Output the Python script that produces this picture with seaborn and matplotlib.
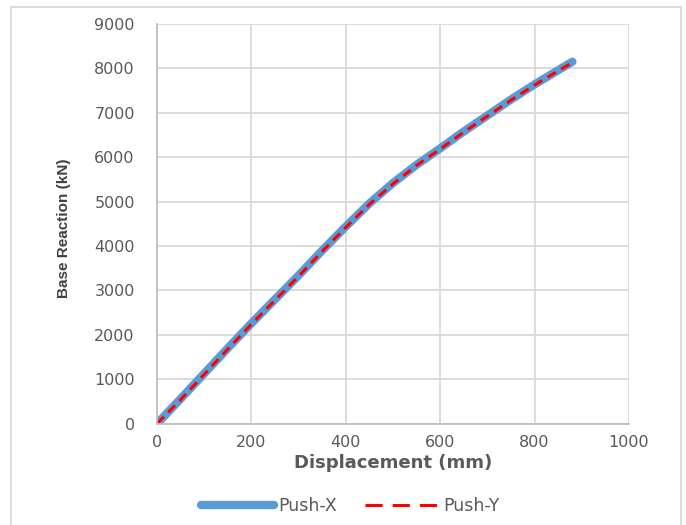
import matplotlib
matplotlib.use("Agg")
import matplotlib.pyplot as plt
import numpy as np
import pandas as pd
import seaborn as sns
from matplotlib.lines import Line2D
from matplotlib.patches import Rectangle

# pushover curves
disp_x = [0, 50, 100, 150, 200, 250, 300, 350, 400, 450, 500, 550, 600, 650, 700, 750, 800, 850, 880]
force_x = [0, 560, 1130, 1700, 2260, 2800, 3340, 3900, 4440, 4960, 5420, 5830, 6200, 6580, 6940, 7300, 7640, 7960, 8150]
disp_y = [0, 50, 100, 150, 200, 250, 300, 350, 400, 450, 500, 550, 600, 650, 700, 750, 800, 850, 875]
force_y = [0, 540, 1110, 1680, 2240, 2780, 3320, 3880, 4420, 4940, 5400, 5815, 6185, 6565, 6925, 7285, 7625, 7945, 8100]
series_names = ["Push-X", "Push-Y"]

x_ticks = [0, 200, 400, 600, 800, 1000]
y_ticks = [0, 1000, 2000, 3000, 4000, 5000, 6000, 7000, 8000, 9000]

BLUE = "#5B9BD5"
RED = "#FF0000"
GRID = "#D9D9D9"
TEXT = "#595959"

sns.set_theme(style="whitegrid")
plt.rcParams["font.family"] = ["DejaVu Sans"]

df_x = pd.DataFrame({"disp": disp_x, "force": force_x})
df_y = pd.DataFrame({"disp": disp_y, "force": force_y})

fig = plt.figure(figsize=(6.86, 5.25), dpi=100)
ax = fig.add_axes([157 / 686, 1 - 423.7 / 525, 472 / 686, 399.7 / 525])

sns.lineplot(data=df_x, x="disp", y="force", ax=ax, color=BLUE, linewidth=6,
             solid_capstyle="round", sort=False)
sns.lineplot(data=df_y, x="disp", y="force", ax=ax, color=RED, linewidth=2.2,
             sort=False)
ax.lines[1].set_dashes((3.2, 2.0))

ax.set_xlim(0, 1000)
ax.set_ylim(0, 9000)
ax.set_xticks(x_ticks)
ax.set_yticks(y_ticks)
ax.grid(True, color=GRID, linewidth=1.3)
ax.set_axisbelow(True)
for side in ["top", "right"]:
    ax.spines[side].set_visible(False)
for side in ["left", "bottom"]:
    ax.spines[side].set_color("#BFBFBF")
    ax.spines[side].set_linewidth(1.3)
ax.tick_params(axis="both", length=0, labelsize=11.5, labelcolor=TEXT)
ax.tick_params(axis="y", pad=16)
ax.tick_params(axis="x", pad=8)

ax.set_xlabel("Displacement (mm)", fontsize=13, fontweight="bold", color=TEXT, labelpad=3)
ax.set_ylabel("")
fig.text(64 / 686, 1 - 228 / 525, "Base Reaction (kN)", rotation=90, ha="center", va="center",
         fontsize=11, fontweight="bold", color="#404040",
         family=["Liberation Sans", "DejaVu Sans"])

# legend keys: Excel draws longer dashes in the key than on the curve
handles = [
    Line2D([], [], color=BLUE, linewidth=6, solid_capstyle="round"),
    Line2D([], [], color=RED, linewidth=2.2, dashes=(5.6, 3.3)),
]
fig.legend(handles, series_names, loc="center", bbox_to_anchor=(350 / 686, 1 - 506 / 525), ncol=2,
           frameon=False, fontsize=12.5, handlelength=4.2, columnspacing=1.6,
           handletextpad=0.29, labelcolor=TEXT)

fig.patches.append(Rectangle((11 / 686, -0.02), 670 / 686, 1.02 - 7 / 525,
                             transform=fig.transFigure, fill=False,
                             edgecolor=GRID, linewidth=1.3))

fig.savefig("out.png", dpi=100, facecolor="white")
